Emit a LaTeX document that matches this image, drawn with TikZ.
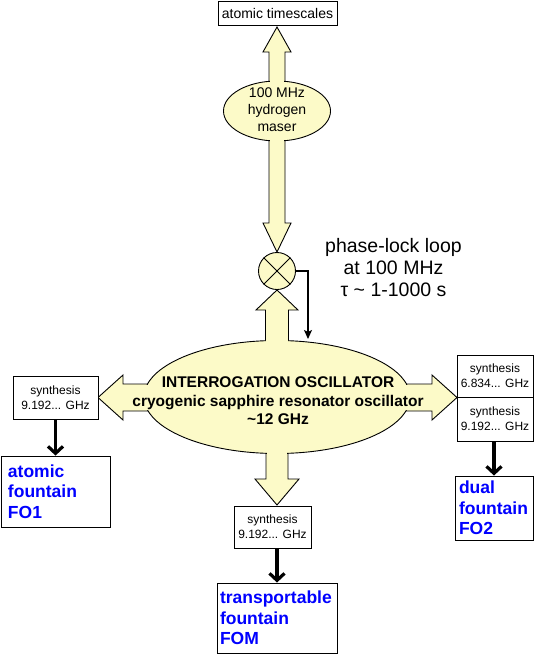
\documentclass[tikz,border=0pt]{standalone}
\usepackage{fontspec}
\setmainfont{Liberation Sans}
\usetikzlibrary{arrows.meta,shapes.geometric,calc}
\definecolor{pale}{RGB}{252,250,200}
\definecolor{fblue}{RGB}{0,0,255}
\begin{document}
\begin{tikzpicture}[x=1pt,y=-1pt,
  outl/.style={draw=black,line width=0.9pt,line join=miter},
  yshape/.style={outl,fill=pale},
  cover/.style={fill=pale,draw=none},
  plainbox/.style={draw=black,line width=0.9pt,fill=white,rectangle,inner sep=0pt,align=center},
  synbox/.style={plainbox,font=\fontsize{12}{15}\selectfont},
  fobox/.style={draw=black,line width=0.9pt,rectangle,inner ysep=0pt,align=left,text=fblue,font=\fontsize{17.5}{20.5}\selectfont\bfseries},
  thickarrow/.style={line width=3.2pt,-{Straight Barb[length=7pt,width=15pt]}},
  thinarrow/.style={line width=1.3pt,-{Stealth[length=9pt,width=8pt,inset=2pt]}}
]
\useasboundingbox (0,0) rectangle (544,654);

% ---- maser arrows ----
\draw[yshape] (269,110) -- (269,52) -- (263,52) -- (277,27) -- (291,52) -- (285,52) -- (285,110) -- cycle;
\draw[yshape] (269,110) -- (269,223) -- (263,223) -- (277,252) -- (291,223) -- (285,223) -- (285,110) -- cycle;
\node[ellipse,yshape,minimum width=107,minimum height=60,inner sep=0pt] (maser) at (277,111) {};
\fill[cover] (269.7,72) rectangle (284.3,92);
\fill[cover] (269.7,130) rectangle (284.3,150);
\node[align=center,font=\fontsize{14}{17}\selectfont] (masertxt) at (277,110) {100 MHz\\hydrogen\\maser};

% ---- main oscillator arrows ----
\draw[yshape] (265.5,360) -- (265.5,310) -- (256,310) -- (277,290) -- (298,310) -- (288.5,310) -- (288.5,360) -- cycle;
\draw[yshape] (180,384) -- (123,384) -- (123,375) -- (98,397.5) -- (123,420) -- (123,411) -- (180,411) -- cycle;
\draw[yshape] (374,384) -- (432,384) -- (432,375) -- (457,397.5) -- (432,420) -- (432,411) -- (374,411) -- cycle;
\draw[yshape] (266,430) -- (266,479) -- (255,479) -- (277,505) -- (299,479) -- (288,479) -- (288,430) -- cycle;
\node[ellipse,yshape,minimum width=266,minimum height=113,inner sep=0pt] (main) at (277,397) {};
\fill[cover] (266.2,328) rectangle (287.8,352);
\fill[cover] (132,384.7) rectangle (162,410.3);
\fill[cover] (392,384.7) rectangle (422,410.3);
\fill[cover] (266.7,442) rectangle (287.3,466);
\node[align=center,font=\fontsize{15.5}{18.5}\selectfont\bfseries] (maintxt) at (278,401)
  {INTERROGATION OSCILLATOR\\cryogenic sapphire resonator oscillator\\\textasciitilde12 GHz};

% ---- mixer ----
\node[circle,yshape,minimum size=37,inner sep=0pt] (mix) at (277,271) {};
\draw[line width=0.9pt] (mix.north west) -- (mix.south east);
\draw[line width=0.9pt] (mix.north east) -- (mix.south west);

% ---- boxes ----
\node[plainbox,minimum width=119,minimum height=24,font=\fontsize{14}{17}\selectfont] (atomic) at (277.5,13) {atomic timescales};

\node[synbox,minimum width=85,minimum height=43] (synL) at (55.5,397.5) {synthesis\\9.192... GHz};
\node[synbox,minimum width=76,minimum height=42] (synR1) at (495,376) {synthesis\\6.834... GHz};
\node[synbox,minimum width=76,minimum height=44] (synR2) at (495,419) {synthesis\\9.192... GHz};
\node[synbox,minimum width=77,minimum height=42] (synB) at (272.5,527) {synthesis\\9.192... GHz};

\node[fobox,text width=95,inner xsep=7pt,minimum height=71] (fo1) at (55.5,491.5) {atomic\\fountain\\FO1};
\node[fobox,text width=70,inner xsep=4pt,minimum height=64] (fo2) at (494,508) {dual\\fountain\\FO2};
\node[fobox,text width=114,inner xsep=3pt,minimum height=70] (fom) at (277,618) {transportable\\fountain\\FOM};

% ---- connectors ----
\draw[thickarrow] (synL.south) -- (fo1.north);
\draw[thickarrow] (synR2.south -| fo2.north) -- (fo2.north);
\draw[thickarrow] (synB.south -| fom.north) -- (fom.north);

\coordinate (fbend) at (308,339);
\draw[thinarrow] (mix.east) -| (fbend);

\node[align=center,font=\fontsize{19.5}{22}\selectfont] (pll) at (393.5,268)
  {phase-lock loop\\at 100 MHz\\τ \textasciitilde{} 1-1000 s};
\end{tikzpicture}
\end{document}
